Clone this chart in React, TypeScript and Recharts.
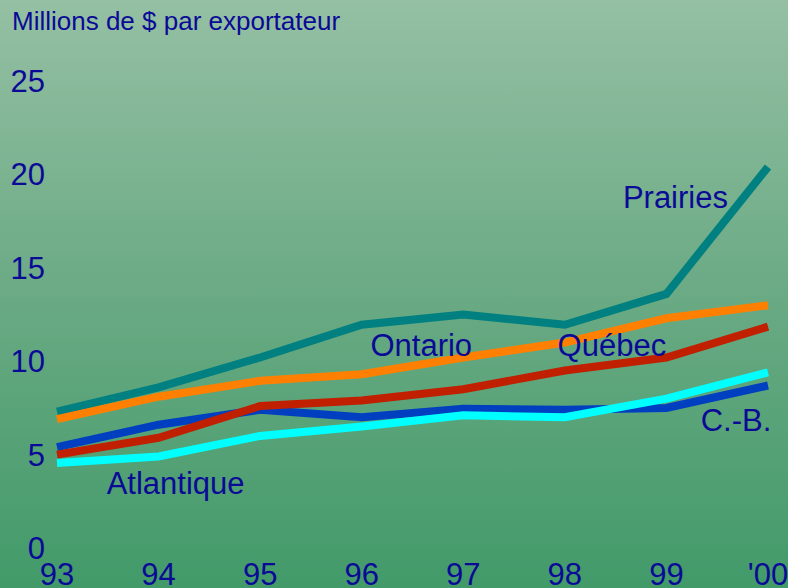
import { LineChart, Line, XAxis, YAxis, ReferenceDot } from "recharts";

const years = ["93", "94", "95", "96", "97", "98", "99", "'00"];
const prairies = [7.3, 8.6, 10.2, 11.95, 12.5, 11.95, 13.6, 20.4];
const ontario = [6.9, 8.1, 8.95, 9.3, 10.2, 11.0, 12.3, 13.0];
const quebec = [5.0, 5.9, 7.6, 7.9, 8.5, 9.5, 10.2, 11.85];
const cb = [5.4, 6.6, 7.4, 7.0, 7.45, 7.4, 7.5, 8.7];
const atlantique = [4.55, 4.9, 6.0, 6.5, 7.1, 7.0, 8.0, 9.4];
const yTicks = [0, 5, 10, 15, 20, 25];

const data = years.map((year, i) => ({
  year,
  prairies: prairies[i],
  ontario: ontario[i],
  quebec: quebec[i],
  cb: cb[i],
  atlantique: atlantique[i],
}));

const INK = "#0a0a96";
const FONT = "'Liberation Sans', Arial, sans-serif";

// series labels placed next to the lines, anchored on a category + offset
const labels = [
  { text: "Prairies", x: "99", y: 18.8, dx: 9 },
  { text: "Ontario", x: "97", y: 10.87, dx: -42 },
  { text: "Québec", x: "98", y: 10.87, dx: 47 },
  { text: "C.-B.", x: "'00", y: 6.85, dx: -32 },
  { text: "Atlantique", x: "94", y: 3.48, dx: 17 },
];

const series = [
  { key: "prairies", color: "#008080" },
  { key: "ontario", color: "#ff8000" },
  { key: "cb", color: "#0040c0" },
  { key: "quebec", color: "#c02000" },
  { key: "atlantique", color: "#00ffff" },
];

export default function App() {
  return (
    <div
      style={{
        position: "absolute",
        left: 0,
        top: 0,
        width: 788,
        height: 588,
        overflow: "hidden",
        background: "linear-gradient(to bottom, #95c0a3 0%, #6aaa84 50%, #429a69 100%)",
        fontFamily: FONT,
      }}
    >
      <div
        style={{
          position: "absolute",
          left: 12,
          top: 6,
          fontSize: 26,
          color: INK,
          whiteSpace: "nowrap",
        }}
      >
        Millions de $ par exportateur
      </div>
      <LineChart
        width={788}
        height={588}
        data={data}
        margin={{ top: 81, right: 20, bottom: 0, left: 0 }}
      >
        <XAxis
          dataKey="year"
          height={40}
          axisLine={false}
          tickLine={false}
          tickMargin={9}
          interval={0}
          tick={{ fill: INK, fontSize: 31, fontFamily: FONT }}
        />
        <YAxis
          width={57}
          domain={[0, 25]}
          ticks={yTicks}
          axisLine={false}
          tickLine={false}
          tickMargin={6}
          tick={{ fill: INK, fontSize: 31, fontFamily: FONT }}
        />
        {series.map((s) => (
          <Line
            key={s.key}
            type="linear"
            dataKey={s.key}
            stroke={s.color}
            strokeWidth={8}
            dot={false}
            activeDot={false}
            isAnimationActive={false}
          />
        ))}
        {labels.map((l) => (
          <ReferenceDot
            key={l.text}
            x={l.x}
            y={l.y}
            r={0}
            fill="none"
            stroke="none"
            label={(props: any) => {
              const { viewBox } = props;
              const cx = viewBox.x + viewBox.width / 2 + l.dx;
              const cy = viewBox.y + viewBox.height / 2;
              return (
                <text
                  x={cx}
                  y={cy}
                  dy="0.355em"
                  textAnchor="middle"
                  fill={INK}
                  fontSize={31}
                  fontFamily={FONT}
                >
                  {l.text}
                </text>
              );
            }}
          />
        ))}
      </LineChart>
    </div>
  );
}
